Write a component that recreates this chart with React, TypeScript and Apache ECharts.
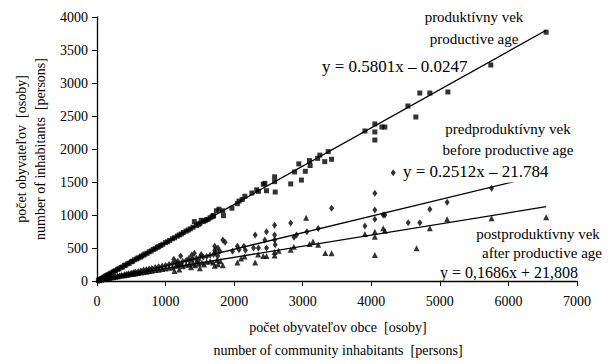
import React, { useEffect, useRef } from "react";
import * as echarts from "echarts";

// ---- data ----
const prodX = [20,40,60,80,100,120,140,160,180,200,230,250,270,300,320,350,370,400,420,450,470,500,520,550,580,600,630,650,680,700,730,760,790,820,850,880,900,930,960,1000,1030,1060,1100,1130,1170,1200,1230,1260,1300,1330,1360,1400,1420,1450,1480,1500,1520,1550,1580,1600,1620,1650,1680,1700,
  1693,1741,1778,1835,1844,1967,2047,2071,2118,2156,2259,2330,2354,2425,2448,2472,2590,2590,2599,2825,2882,2943,2981,3038,3099,3108,3217,3250,3321,3372,3421,
  3907,4052,4052,4052,4155,4198,4534,4650,4708,4854,5117,5743,6550];
const prodY = [12,22,36,45,58,72,80,95,103,118,132,148,155,176,185,205,212,235,242,262,270,292,300,322,335,350,362,378,392,408,420,442,455,478,490,512,520,538,556,582,595,615,640,655,680,698,712,735,755,772,790,815,900,842,860,870,920,900,915,930,935,958,975,985,
  990,1064,1088,1064,990,1103,1172,1211,1235,1284,1333,1382,1358,1466,1480,1368,1578,1505,1348,1471,1652,1775,1529,1662,1824,1750,1858,1907,1809,1960,1844,
  2273,2379,2258,2136,2333,2333,2652,2485,2848,2848,2864,3273,3770];

const preX = [30,60,90,120,150,180,210,240,270,300,330,360,400,430,460,500,530,560,600,640,680,720,760,800,850,900,950,1000,1050,1100,1120,1150,1180,1200,1220,1250,1300,1340,1360,1380,1400,1420,1450,1480,1500,1520,1550,1600,1650,
  1700,1730,1760,1790,1717,1764,1717,1835,1868,1976,2047,2071,2142,2165,2283,2307,2354,2448,2472,2472,2590,2590,2590,2599,2825,2873,2910,3061,3226,3421,
  3907,4052,4052,4052,4174,4198,4320,4538,4708,4854,5106,5754,6550];
const preY = [5,12,18,25,32,40,45,55,60,70,75,85,95,100,110,118,125,135,142,150,165,172,180,190,205,215,225,235,250,262,330,280,300,250,380,295,310,340,300,390,330,420,345,310,360,400,365,370,390,
  400,430,380,450,525,500,466,623,588,451,525,475,525,466,500,696,500,623,745,500,843,696,623,549,877,662,696,745,794,1101,
  833,1329,1076,935,1000,1000,1640,883,883,1086,1192,1405,1800];

const postX = [30,60,90,120,150,180,210,240,270,300,330,360,400,430,460,500,530,560,600,640,680,720,760,800,850,900,950,1000,1050,1100,1130,1150,1180,1200,1230,1250,1300,1340,1370,1400,1430,1450,1480,1500,1530,1560,1600,1650,
  1693,1717,1764,1835,1750,1800,2047,2100,2150,2307,2350,2425,2472,2590,2590,2650,2825,2870,3050,3226,3330,3100,3150,
  3421,3907,4052,4052,4052,4174,4198,4660,4854,5106,5754,6550];
const postY = [20,28,35,42,45,52,58,62,68,72,78,82,88,95,98,105,110,115,122,128,135,140,150,155,165,172,180,190,200,205,150,230,240,175,260,225,245,250,210,265,240,300,260,195,280,250,290,300,
  279,230,255,240,320,300,279,340,370,279,400,377,377,387,440,460,475,520,960,549,426,560,600,
  420,712,747,671,394,798,762,495,798,935,950,965];

// trendline coefficients [slope, intercept]
const prodFit = [0.5801, -0.0247];
const preFit = [0.2512, -21.784];
const postFit = [0.1686, 21.808];

const xTicks = { min: 0, max: 7000, interval: 1000 };
const yTicks = { min: 0, max: 4000, interval: 500 };

const SERIF = "Liberation Serif";

function zip(xs: number[], ys: number[]) {
  return xs.map((x, i) => [x, ys[i]]);
}
function fitLine(fit: number[], xs: number[]) {
  const xm = Math.max(...xs);
  return [[0, fit[1]], [xm, fit[0] * xm + fit[1]]];
}

export default function App() {
  const ref = useRef<HTMLDivElement>(null);
  useEffect(() => {
    if (!ref.current) return;
    const chart = echarts.init(ref.current, undefined, { renderer: "svg" });
    const axisLabel = { color: "#000", fontFamily: SERIF, fontSize: 14, formatter: (v: number) => String(v) };
    const lineSeries = (fit: number[], xs: number[]) => ({
      type: "line",
      data: fitLine(fit, xs),
      showSymbol: false,
      symbol: "none",
      lineStyle: { color: "#000", width: 1.3 },
      z: 3,
      silent: true,
    });
    const txt = (text: string, x: number, y: number, size: number, align = "center", extra: any = {}, rotation = 0) => ({
      type: "text",
      x,
      y,
      z: 100,
      rotation,
      style: {
        text,
        fontFamily: SERIF,
        fontSize: size,
        fill: "#000",
        align,
        verticalAlign: "middle",
        ...extra,
      },
    });
    chart.setOption({
      animation: false,
      backgroundColor: "#fff",
      textStyle: { fontFamily: SERIF },
      grid: { left: 97, right: 39, top: 17, bottom: 83, containLabel: false },
      xAxis: {
        type: "value",
        ...xTicks,
        axisLine: { lineStyle: { color: "#000", width: 1.3 } },
        axisTick: { show: true, length: 5, lineStyle: { color: "#000" } },
        splitLine: { show: false },
        axisLabel: { ...axisLabel, margin: 13 },
      },
      yAxis: {
        type: "value",
        ...yTicks,
        axisLine: { show: true, lineStyle: { color: "#000", width: 1.3 } },
        axisTick: { show: true, length: 5, lineStyle: { color: "#000" } },
        splitLine: { show: false },
        axisLabel: { ...axisLabel, margin: 9 },
      },
      series: [
        { type: "scatter", data: zip(prodX, prodY), symbol: "rect", symbolSize: 5, itemStyle: { color: "#000" }, z: 2 },
        { type: "scatter", data: zip(preX, preY), symbol: "diamond", symbolSize: [5, 7], itemStyle: { color: "#000" }, z: 2 },
        { type: "scatter", data: zip(postX, postY), symbol: "triangle", symbolSize: 6, itemStyle: { color: "#000" }, z: 2 },
        lineSeries(prodFit, prodX),
        lineSeries(preFit, preX),
        lineSeries(postFit, postX),
      ],
      graphic: [
        txt("produktívny vek", 474, 17, 15),
        txt("productive age", 474, 39, 15),
        txt("y = 0.5801x – 0.0247", 322, 66, 17, "left"),
        txt("predproduktívny vek", 508, 129, 15),
        txt("before productive age", 508, 150, 15),
        txt("y = 0.2512x – 21.784", 398, 171, 17, "left", { backgroundColor: "#fff", padding: [3, 8, 3, 5] }),
        txt("postproduktívny vek", 538, 234, 15),
        txt("after productive age", 542, 253, 15),
        txt("y = 0,1686x + 21,808", 440, 272, 16, "left"),
        txt("počet obyvateľov obce  [osoby]", 338, 327, 14),
        txt("number of community inhabitants  [persons]", 338, 350, 14),
        txt("počet obyvateľov  [osoby]", 21, 149, 14, "center", {}, Math.PI / 2),
        txt("number of inhabitants  [persons]", 40, 149, 14, "center", {}, Math.PI / 2),
      ],
    });
    return () => chart.dispose();
  }, []);
  return <div ref={ref} style={{ position: "absolute", left: 0, top: 0, width: 616, height: 364 }} />;
}
